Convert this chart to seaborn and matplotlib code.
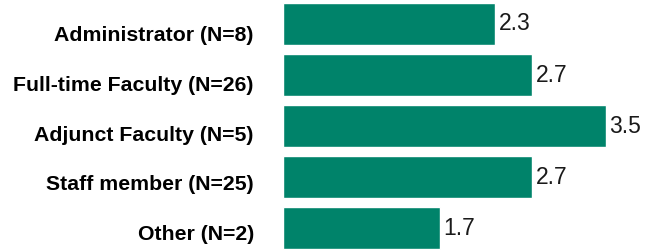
import matplotlib
matplotlib.use('Agg')
import matplotlib.pyplot as plt
import matplotlib.transforms as mtransforms
import seaborn as sns
import pandas as pd

# values
roles = ['Administrator (N=8)', 'Full-time Faculty (N=26)', 'Adjunct Faculty (N=5)',
         'Staff member (N=25)', 'Other (N=2)']
scores = [2.3, 2.7, 3.5, 2.7, 1.7]

df = pd.DataFrame({'role': roles, 'score': scores})

sns.set_style('white')
plt.rcParams['font.family'] = ['Liberation Sans', 'DejaVu Sans']

fig = plt.figure(figsize=(6.55, 2.5), dpi=100)
ax = fig.add_axes([283 / 655, 0, 369 / 655, 1])

sns.barplot(data=df, x='score', y='role', color='#00836A', saturation=1,
            width=0.82, ax=ax)

for i, v in enumerate(scores):
    ax.text(v + 0.04, i, f'{v:.1f}', va='center', ha='left', fontsize=16.5,
            color='#1a1a1a')

ax.set_xlim(0, 4)
ax.set_ylim(4.43, -0.47)
ax.set_xlabel('')
ax.set_ylabel('')
ax.set_xticks([])
ax.tick_params(axis='y', length=0, pad=21)
# category labels sit a little lower than the bars, drifting up going down
for i, lbl in enumerate(ax.get_yticklabels()):
    lbl.set_fontweight('bold')
    lbl.set_fontsize(15.3)
    lbl.set_color('black')
    shift = (10 - 1.4 * i) / fig.dpi
    lbl.set_transform(lbl.get_transform() +
                      mtransforms.ScaledTranslation(0, -shift, fig.dpi_scale_trans))
sns.despine(ax=ax, left=True, bottom=True)

fig.savefig('out.png', dpi=100)
